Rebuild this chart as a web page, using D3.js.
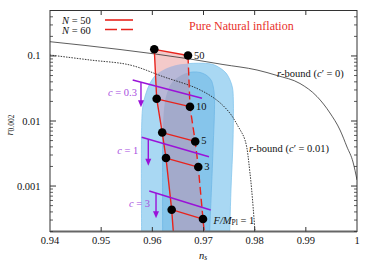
<!DOCTYPE html>
<html><head><meta charset="utf-8">
<script src="https://cdnjs.cloudflare.com/ajax/libs/d3/7.8.5/d3.min.js"></script>
<style>body{margin:0;background:#fff}svg{display:block}</style>
</head><body><svg id="c" width="374" height="263" font-family="'Liberation Serif','Times New Roman','DejaVu Serif',serif"></svg>
<script>
// ---- data ----
const xTicks = [0.94, 0.95, 0.96, 0.97, 0.98, 0.99, 1.0];
const xTickLabels = ["0.94", "0.95", "0.96", "0.97", "0.98", "0.99", "1"];
const yTicks = [0.001, 0.01, 0.1];
const yTickLabels = ["0.001", "0.01", "0.1"];

const F = [50, 10, 5, 3, 1];
const fLabels = ["50", "10", "5", "3", "1"];
const ns50 = [0.96038, 0.96085, 0.96193, 0.96267, 0.96378];
const r50  = [0.1266, 0.02195, 0.00665, 0.002698, 0.000433];
const ns60 = [0.96697, 0.96736, 0.96838, 0.96898, 0.96990];
const r60  = [0.1016, 0.01659, 0.00484, 0.001962, 0.000311];
const tailNs50 = 0.96414, tailNs60 = 0.97020, tailR = 0.00018;

const outerNs = [0.95792, 0.95792, 0.95818, 0.95866, 0.95954, 0.96072, 0.96214, 0.96404, 0.96605, 0.96990, 0.97186, 0.97322, 0.97440, 0.97518, 0.97567, 0.97583, 0.97577, 0.97537, 0.97504];
const outerR  = [0.00012, 0.00868, 0.01762, 0.02511, 0.0380, 0.0510, 0.0608, 0.0701, 0.0752, 0.0771, 0.0739, 0.0653, 0.0547, 0.0427, 0.0322, 0.0210, 0.0051, 0.00087, 0.00012];
const innerNs = [0.96203, 0.96208, 0.96238, 0.96287, 0.96365, 0.96482, 0.96638, 0.96795, 0.96932, 0.97049, 0.97147, 0.97195, 0.97215, 0.97186, 0.97107];
const innerR  = [0.00012, 0.00727, 0.01762, 0.02694, 0.0371, 0.0458, 0.0537, 0.0567, 0.0557, 0.0510, 0.0427, 0.0322, 0.0210, 0.00358, 0.00012];

const rb0Ns = [0.94, 0.95368, 0.96736, 0.97381, 0.98046, 0.98436, 0.98886, 0.99218, 0.99472, 0.99668, 0.99805, 0.99922, 1.0];
const rb0R  = [0.1657, 0.1257, 0.0898, 0.0739, 0.0608, 0.0501, 0.0377, 0.0238, 0.01327, 0.00727, 0.00398, 0.00234, 0.00124];
const rb1Ns = [0.94, 0.94782, 0.95564, 0.96214, 0.96867, 0.97258, 0.97518, 0.97680, 0.97811, 0.97909, 0.98007, 0.98020];
const rb1R  = [0.1034, 0.0867, 0.0726, 0.0480, 0.0318, 0.0210, 0.01313, 0.00817, 0.00510, 0.00157, 0.00020, 0.00015];

const cValues = ["0.3", "1", "3"];
const cStartNs = [0.95616, 0.95792, 0.95940];
const cStartR  = [0.0427, 0.00562, 0.000839];
const cEndNs   = [0.96971, 0.97107, 0.97140];
const cEndR    = [0.02234, 0.002825, 0.000428];
const cArrowNs = [0.95778, 0.95921, 0.96072];
const cArrowEndR = [0.01624, 0.002054, 0.000319];

// ---- layout / style ----
const L = 50, R = 357, T = 10.5, B = 231.5;
const x = d3.scaleLinear([0.94, 1.0], [L, R]);
const y = d3.scaleLog([2e-4, 0.5], [B, T]);
const red = "#e8231c", purple = "#9a12d8", purpleText = "#a84ee0";

const svg = d3.select("#c");
const defs = svg.append("defs");
defs.append("clipPath").attr("id", "plot").append("rect")
  .attr("x", L).attr("y", T).attr("width", R - L).attr("height", B - T);

const closed = d3.line().x(d => x(d[0])).y(d => y(d[1])).curve(d3.curveCatmullRom.alpha(0.5));
const outerPts = outerNs.map((v, i) => [v, outerR[i]]);
const innerPts = innerNs.map((v, i) => [v, innerR[i]]);
const outerD = closed(outerPts) + "Z";
const innerD = closed(innerPts) + "Z";
defs.append("clipPath").attr("id", "outerC").append("path").attr("d", outerD);
defs.append("clipPath").attr("id", "innerC").append("path").attr("d", innerD);

const g = svg.append("g").attr("clip-path", "url(#plot)");
g.append("path").attr("d", outerD).attr("fill", "#a9d8f3").attr("stroke", "#86c7ee").attr("stroke-width", 0.8);
g.append("path").attr("d", innerD).attr("fill", "#86c5eb").attr("stroke", "#70b8e6").attr("stroke-width", 0.8);

// pink band between N=50 and N=60
const band = ns50.map((v, i) => [v, r50[i]])
  .concat([[tailNs50, tailR], [tailNs60, tailR]])
  .concat(ns60.map((v, i) => [v, r60[i]]).reverse());
const lin = d3.line().x(d => x(d[0])).y(d => y(d[1]));
const bandD = lin(band) + "Z";
g.append("path").attr("d", bandD).attr("fill", "#f4caca");
g.append("g").attr("clip-path", "url(#outerC)").append("path").attr("d", bandD).attr("fill", "#b8b8d7");
g.append("g").attr("clip-path", "url(#innerC)").append("path").attr("d", bandD).attr("fill", "#a3aacb");

// r-bound curves
const smooth = d3.line().x(d => x(d[0])).y(d => y(d[1])).curve(d3.curveMonotoneX);
g.append("path").attr("d", smooth(rb0Ns.map((v, i) => [v, rb0R[i]])))
  .attr("fill", "none").attr("stroke", "#333").attr("stroke-width", 0.8);
g.append("path").attr("d", d3.line().x(d => x(d[0])).y(d => y(d[1])).curve(d3.curveCatmullRom)(rb1Ns.map((v, i) => [v, rb1R[i]])))
  .attr("fill", "none").attr("stroke", "#222").attr("stroke-width", 0.9).attr("stroke-dasharray", "1.5,1.2");

// red curves
const c50 = ns50.map((v, i) => [v, r50[i]]).concat([[tailNs50, tailR]]);
const c60 = ns60.map((v, i) => [v, r60[i]]).concat([[tailNs60, tailR]]);
g.append("path").attr("d", lin(c50)).attr("fill", "none").attr("stroke", red).attr("stroke-width", 1.4);
g.append("path").attr("d", lin(c60)).attr("fill", "none").attr("stroke", red).attr("stroke-width", 1.4).attr("stroke-dasharray", "8,4");
F.forEach((f, i) => {
  g.append("line").attr("x1", x(ns50[i])).attr("y1", y(r50[i])).attr("x2", x(ns60[i])).attr("y2", y(r60[i]))
    .attr("stroke", red).attr("stroke-width", 1.3);
});

// purple c lines with arrows
const labOff = [4, 10, 6];
cValues.forEach((c, i) => {
  g.append("line").attr("x1", x(cStartNs[i])).attr("y1", y(cStartR[i])).attr("x2", x(cEndNs[i])).attr("y2", y(cEndR[i]))
    .attr("stroke", purple).attr("stroke-width", 1.4);
  const t = (cArrowNs[i] - cStartNs[i]) / (cEndNs[i] - cStartNs[i]);
  const lr = Math.log10(cStartR[i]) + t * (Math.log10(cEndR[i]) - Math.log10(cStartR[i]));
  const ax = x(cArrowNs[i]), ay0 = y(Math.pow(10, lr)), ay1 = y(cArrowEndR[i]);
  g.append("line").attr("x1", ax).attr("y1", ay0).attr("x2", ax).attr("y2", ay1 - 5)
    .attr("stroke", purple).attr("stroke-width", 1.4);
  g.append("path").attr("d", `M${ax - 3},${ay1 - 7}L${ax + 3},${ay1 - 7}L${ax},${ay1}Z`).attr("fill", purple);
  const tx = svg.append("text").attr("x", ax - labOff[i]).attr("y", (ay0 + ay1) / 2 - 2.5)
    .attr("text-anchor", "end").attr("dominant-baseline", "central").attr("fill", purpleText).attr("font-size", 10.5);
  tx.append("tspan").attr("font-style", "italic").text("c");
  tx.append("tspan").text(" = " + c);
});

// dots
F.forEach((f, i) => {
  g.append("circle").attr("cx", x(ns50[i])).attr("cy", y(r50[i])).attr("r", 4.3).attr("fill", "#000");
  g.append("circle").attr("cx", x(ns60[i])).attr("cy", y(r60[i])).attr("r", 4.3).attr("fill", "#000");
});
// F labels
F.forEach((f, i) => {
  const tx = svg.append("text").attr("x", x(ns60[i]) + (i === 4 ? 10.5 : 6)).attr("y", y(r60[i]) + (i === 4 ? 1 : -0.5))
    .attr("dominant-baseline", "central").attr("font-size", 10.5).attr("fill", "#111");
  if (i === 4) {
    tx.append("tspan").attr("font-style", "italic").text("F/M");
    tx.append("tspan").attr("font-size", 7.5).attr("dy", 2).text("Pl");
    tx.append("tspan").attr("dy", -2).text(" = " + fLabels[i]);
  } else tx.text(fLabels[i]);
});

// r-bound labels
function rbLabel(px, py, val) {
  const tx = svg.append("text").attr("x", px).attr("y", py).attr("dominant-baseline", "central").attr("font-size", 10.5).attr("fill", "#111");
  tx.append("tspan").attr("font-style", "italic").text("r");
  tx.append("tspan").text("-bound (");
  tx.append("tspan").attr("font-style", "italic").text("c");
  tx.append("tspan").text("\u2032 = " + val + ")");
}
rbLabel(277, 72.5, "0");
rbLabel(249, 147.5, "0.01");

// frame
svg.append("rect").attr("x", L).attr("y", T).attr("width", R - L).attr("height", B - T)
  .attr("fill", "none").attr("stroke", "#333").attr("stroke-width", 1);
svg.append("line").attr("x1", L).attr("x2", R).attr("y1", B).attr("y2", B).attr("stroke", "#666").attr("stroke-width", 1.8);

// x ticks
xTicks.forEach((v, i) => {
  const px = x(v);
  if (i > 0 && i < xTicks.length - 1) {
    svg.append("line").attr("x1", px).attr("x2", px).attr("y1", B).attr("y2", B - 4.5).attr("stroke", "#333");
    svg.append("line").attr("x1", px).attr("x2", px).attr("y1", T).attr("y2", T + 4.5).attr("stroke", "#333");
  }
  svg.append("text").attr("x", px).attr("y", 240.5).attr("text-anchor", "middle").attr("dominant-baseline", "central")
    .attr("font-size", 10.5).attr("fill", "#111").text(xTickLabels[i]);
});
// y ticks
const minor = [];
[1e-4, 1e-3, 1e-2, 1e-1].forEach(d => { for (let k = 2; k <= 9; k++) { const v = d * k; if (v >= 2e-4 && v <= 0.5) minor.push(v); } });
minor.forEach(v => {
  const py = y(v);
  svg.append("line").attr("x1", L).attr("x2", L + 3).attr("y1", py).attr("y2", py).attr("stroke", "#333").attr("stroke-width", 0.8);
  svg.append("line").attr("x1", R).attr("x2", R - 3).attr("y1", py).attr("y2", py).attr("stroke", "#333").attr("stroke-width", 0.8);
});
yTicks.forEach((v, i) => {
  const py = y(v);
  svg.append("line").attr("x1", L).attr("x2", L + 6).attr("y1", py).attr("y2", py).attr("stroke", "#333");
  svg.append("line").attr("x1", R).attr("x2", R - 6).attr("y1", py).attr("y2", py).attr("stroke", "#333");
  svg.append("text").attr("x", 40.5).attr("y", py).attr("text-anchor", "end").attr("dominant-baseline", "central")
    .attr("font-size", 10.5).attr("fill", "#111").text(yTickLabels[i]);
});

// axis titles
const xl = svg.append("text").attr("x", 203).attr("y", 255).attr("text-anchor", "middle").attr("dominant-baseline", "central")
  .attr("font-size", 10.5).attr("fill", "#111");
xl.append("tspan").attr("font-style", "italic").text("n");
xl.append("tspan").attr("font-style", "italic").attr("font-size", 7.5).attr("dy", 2).text("s");
const yl = svg.append("text").attr("transform", "translate(9,125) rotate(-90)").attr("text-anchor", "middle")
  .attr("dominant-baseline", "central").attr("font-size", 10.5).attr("fill", "#111");
yl.append("tspan").attr("font-style", "italic").text("r");
yl.append("tspan").attr("font-size", 7.5).attr("dy", 2).text("0.002");

// legend
const legend = [["50", null], ["60", "12,4"]];
legend.forEach((d, i) => {
  const ly = 20 + i * 9.5;
  const tx = svg.append("text").attr("x", 62).attr("y", ly).attr("dominant-baseline", "central").attr("font-size", 10.5).attr("fill", "#111");
  tx.append("tspan").attr("font-style", "italic").text("N");
  tx.append("tspan").text(" = " + d[0]);
  const ln = svg.append("line").attr("x1", 105).attr("x2", 133).attr("y1", ly).attr("y2", ly).attr("stroke", red).attr("stroke-width", 1.6);
  if (d[1]) ln.attr("stroke-dasharray", d[1]);
});

// title
svg.append("text").attr("x", 189).attr("y", 25.5).attr("dominant-baseline", "central").attr("font-size", 12)
  .attr("fill", "#e8302a").text("Pure Natural inflation");
</script>
</body></html>
